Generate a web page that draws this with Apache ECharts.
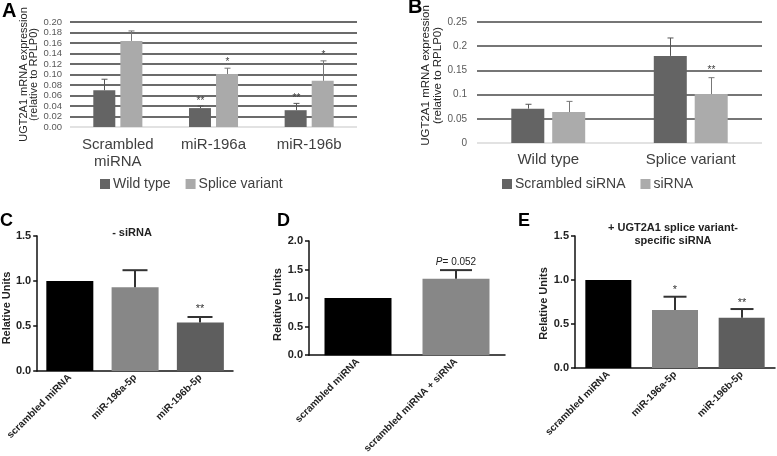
<!DOCTYPE html>
<html><head><meta charset="utf-8">
<script src="https://cdn.jsdelivr.net/npm/echarts@6/dist/echarts.min.js"></script>
<style>html,body{margin:0;padding:0;background:#fff}#c{width:777px;height:456px}</style>
</head><body><div id="c"></div>
<script>
// ---------- Panel A ----------
const aCategories = ['Scrambled\nmiRNA', 'miR-196a', 'miR-196b'];
const aWild = [0.070, 0.036, 0.032];
const aWildErr = [0.091, 0.040, 0.045];
const aWildStars = ['', '**', '**'];
const aSplice = [0.164, 0.101, 0.088];
const aSpliceErr = [0.183, 0.112, 0.126];
const aSpliceStars = ['', '*', '*'];
const aTickLabels = ['0.00','0.02','0.04','0.06','0.08','0.10','0.12','0.14','0.16','0.18','0.20'];
// ---------- Panel B ----------
const bCategories = ['Wild type', 'Splice variant'];
const bScrambled = [0.071, 0.180];
const bScrambledErr = [0.080, 0.217];
const bScrambledStars = ['', ''];
const bSi = [0.064, 0.101];
const bSiErr = [0.086, 0.135];
const bSiStars = ['', '**'];
const bTickLabels = ['0','0.05','0.1','0.15','0.2','0.25'];
// ---------- Panel C ----------
const cCategories = ['scrambled miRNA', 'miR-196a-5p', 'miR-196b-5p'];
const cValues = [1.0, 0.93, 0.54];
const cErr = [null, 1.12, 0.60];
const cStars = ['', '', '**'];
const cTickLabels = ['0.0','0.5','1.0','1.5'];
// ---------- Panel D ----------
const dCategories = ['scrambled miRNA', 'scrambled miRNA + siRNA'];
const dValues = [1.0, 1.34];
const dErr = [null, 1.49];
const dNotes = ['', '{i|P}= 0.052'];
const dTickLabels = ['0.0','0.5','1.0','1.5','2.0'];
// ---------- Panel E ----------
const eCategories = ['scrambled miRNA', 'miR-196a-5p', 'miR-196b-5p'];
const eValues = [1.0, 0.66, 0.57];
const eErr = [null, 0.81, 0.67];
const eStars = ['', '*', '**'];
const eTickLabels = ['0.0','0.5','1.0','1.5'];

// styles
const cdeColors = ['#000000', '#878787', '#5e5e5e'];
const FONT = 'Liberation Sans, Arial, sans-serif';

function errSeries(xi, vals, errs, notes, o) {
  const data = [], labels = [];
  vals.forEach((v, i) => { if (errs[i] != null) { data.push([i, v, errs[i]]); labels.push(notes[i] || ''); } });
  return {
    type: 'custom', xAxisIndex: xi, yAxisIndex: xi, z: 5, silent: true,
    encode: { x: 0, y: 2 }, data: data,
    renderItem(params, api) {
      const i = api.value(0), v = api.value(1), e = api.value(2);
      const p0 = api.coord([i, v]), p1 = api.coord([i, e]);
      const cx = Math.round(p0[0] + o.offset) + (o.width % 2 ? 0.5 : 0);
      const ls = { stroke: o.color, lineWidth: o.width };
      const ch = [
        { type: 'line', shape: { x1: cx, y1: p0[1], x2: cx, y2: p1[1] }, style: ls },
        { type: 'line', shape: { x1: cx - o.cap / 2, y1: p1[1], x2: cx + o.cap / 2, y2: p1[1] }, style: ls }
      ];
      const t = labels[params.dataIndex];
      if (t) ch.push({ type: 'text', x: cx, y: p1[1] - o.gap,
        style: { text: t, fill: o.tcolor, font: o.font, align: 'center', verticalAlign: 'middle', rich: o.rich || {} } });
      return { type: 'group', children: ch };
    }
  };
}

function tickFmt(labels, min, step) {
  return v => labels[Math.round((v - min) / step)];
}

const cdeYAxis = (gi, max, labels, gap, pad) => ({
  type: 'value', gridIndex: gi, min: 0, max: max, interval: 0.5,
  name: 'Relative Units', nameLocation: 'middle', nameGap: gap,
  nameTextStyle: { fontFamily: FONT, fontWeight: 'bold', fontSize: 11, color: '#222', padding: pad },
  axisLine: { show: true, lineStyle: { color: '#111', width: 1.5 } },
  axisTick: { show: true, length: 4, lineStyle: { color: '#111', width: 1.5 } },
  axisLabel: { fontFamily: FONT, fontWeight: 'bold', fontSize: 11, color: '#222', margin: 6,
    showMinLabel: true, showMaxLabel: true, formatter: tickFmt(labels, 0, 0.5) },
  splitLine: { show: false }
});
const cdeXAxis = (gi, cats) => ({
  type: 'category', gridIndex: gi, data: cats,
  axisLine: { show: true, lineStyle: { color: '#111', width: 1.5 } },
  axisTick: { show: false },
  axisLabel: { interval: 0, rotate: 45, fontFamily: FONT, fontWeight: 'bold', fontSize: 10, color: '#222', margin: 5 }
});

const option = {
  animation: false,
  backgroundColor: '#fff',
  title: [
    { text: 'A', left: 2, top: 1, padding: 0, textStyle: { fontFamily: FONT, fontWeight: 'bold', fontSize: 20, color: '#000' } },
    { text: 'B', left: 408, top: -3, padding: 0, textStyle: { fontFamily: FONT, fontWeight: 'bold', fontSize: 20, color: '#000' } },
    { text: 'C', left: 0, top: 212, padding: 0, textStyle: { fontFamily: FONT, fontWeight: 'bold', fontSize: 18, color: '#000' } },
    { text: 'D', left: 277, top: 212, padding: 0, textStyle: { fontFamily: FONT, fontWeight: 'bold', fontSize: 18, color: '#000' } },
    { text: 'E', left: 518, top: 212, padding: 0, textStyle: { fontFamily: FONT, fontWeight: 'bold', fontSize: 18, color: '#000' } },
    { text: '- siRNA', left: 132, top: 227, textAlign: 'center', padding: 0, textStyle: { fontFamily: FONT, fontWeight: 'bold', fontSize: 11, color: '#222' } },
    { text: '+ UGT2A1 splice variant-\nspecific siRNA', left: 673, top: 221, textAlign: 'center', padding: 0,
      textStyle: { fontFamily: FONT, fontWeight: 'bold', fontSize: 11, lineHeight: 13, color: '#222' } }
  ],
  legend: [
    { data: ['Wild type', 'Splice variant'], left: 100, top: 177, padding: 0, icon: 'rect', itemWidth: 10, itemHeight: 10, itemGap: 15,
      textStyle: { fontFamily: FONT, fontSize: 14, color: '#404040', padding: [0, 0, 0, -2] } },
    { data: ['Scrambled siRNA', 'siRNA'], left: 502, top: 177, padding: 0, icon: 'rect', itemWidth: 10, itemHeight: 10, itemGap: 15,
      textStyle: { fontFamily: FONT, fontSize: 14, color: '#404040', padding: [0, 0, 0, -2] } }
  ],
  grid: [
    { left: 70, top: 22, width: 287, height: 105 },
    { left: 477, top: 22, width: 285, height: 121 },
    { left: 31, top: 236, width: 202, height: 135 },
    { left: 309, top: 241, width: 196, height: 129 },
    { left: 575, top: 236, width: 200, height: 132 }
  ],
  xAxis: [
    { type: 'category', gridIndex: 0, data: aCategories, axisLine: { show: false }, axisTick: { show: false },
      axisLabel: { interval: 0, fontFamily: FONT, fontSize: 15, lineHeight: 17, color: '#404040', margin: 9 } },
    { type: 'category', gridIndex: 1, data: bCategories, axisLine: { show: false }, axisTick: { show: false },
      axisLabel: { interval: 0, fontFamily: FONT, fontSize: 15, color: '#404040', margin: 9 } },
    cdeXAxis(2, cCategories),
    cdeXAxis(3, dCategories),
    cdeXAxis(4, eCategories)
  ],
  yAxis: [
    { type: 'value', gridIndex: 0, min: 0, max: 0.2, interval: 0.02,
      name: 'UGT2A1 mRNA expression\n(relative to RPLP0)', nameLocation: 'middle', nameGap: 24,
      nameTextStyle: { fontFamily: FONT, fontSize: 11, lineHeight: 10, color: '#262626' },
      axisLine: { show: false }, axisTick: { show: false },
      axisLabel: { fontFamily: FONT, fontSize: 9.5, color: '#595959', margin: 8, showMinLabel: true, showMaxLabel: true,
        formatter: tickFmt(aTickLabels, 0, 0.02) },
      splitLine: { show: true, lineStyle: { width: 1.5, color: ['#d9d9d9','#3a3a3a','#3a3a3a','#3a3a3a','#3a3a3a','#3a3a3a','#3a3a3a','#3a3a3a','#3a3a3a','#3a3a3a','#3a3a3a'] } } },
    { type: 'value', gridIndex: 1, min: 0, max: 0.25, interval: 0.05,
      name: 'UGT2A1 mRNA expression\n(relative to RPLP0)', nameLocation: 'middle', nameGap: 29,
      nameTextStyle: { fontFamily: FONT, fontSize: 11.5, lineHeight: 12, color: '#262626', padding: [0, 0, 0, 14] },
      axisLine: { show: false }, axisTick: { show: false },
      axisLabel: { fontFamily: FONT, fontSize: 10, color: '#595959', margin: 10, showMinLabel: true, showMaxLabel: true,
        formatter: tickFmt(bTickLabels, 0, 0.05) },
      splitLine: { show: true, lineStyle: { width: 1.5, color: ['#d9d9d9','#484848','#484848','#484848','#484848','#484848'] } } },
    cdeYAxis(2, 1.5, cTickLabels, 13, [0, 9, 0, 0]),
    cdeYAxis(3, 2.0, dTickLabels, 24, [0, 13, 0, 0]),
    cdeYAxis(4, 1.5, eTickLabels, 23, [0, 3, 0, 0])
  ],
  series: [
    { type: 'bar', name: 'Wild type', xAxisIndex: 0, yAxisIndex: 0, data: aWild, barWidth: 22, barGap: '23%', itemStyle: { color: '#646464' } },
    { type: 'bar', name: 'Splice variant', xAxisIndex: 0, yAxisIndex: 0, data: aSplice, barWidth: 22, barGap: '23%', itemStyle: { color: '#aaaaaa' } },
    errSeries(0, aWild, aWildErr, aWildStars, { offset: -13.5, color: '#555', width: 1, cap: 6, gap: 5, tcolor: '#404040', font: '10px ' + FONT }),
    errSeries(0, aSplice, aSpliceErr, aSpliceStars, { offset: 13.5, color: '#777', width: 1, cap: 6, gap: 6, tcolor: '#404040', font: '10px ' + FONT }),

    { type: 'bar', name: 'Scrambled siRNA', xAxisIndex: 1, yAxisIndex: 1, data: bScrambled, barWidth: 33, barGap: '24%', itemStyle: { color: '#646464' } },
    { type: 'bar', name: 'siRNA', xAxisIndex: 1, yAxisIndex: 1, data: bSi, barWidth: 33, barGap: '24%', itemStyle: { color: '#ababab' } },
    errSeries(1, bScrambled, bScrambledErr, bScrambledStars, { offset: -20.5, color: '#555', width: 1, cap: 6, gap: 7, tcolor: '#404040', font: '10px ' + FONT }),
    errSeries(1, bSi, bSiErr, bSiStars, { offset: 20.5, color: '#777', width: 1, cap: 6, gap: 7.5, tcolor: '#404040', font: '10px ' + FONT }),

    { type: 'bar', xAxisIndex: 2, yAxisIndex: 2, barWidth: 47,
      data: cValues.map((v, i) => ({ value: v, itemStyle: { color: cdeColors[i] } })) },
    errSeries(2, cValues, cErr, cStars, { offset: 0, color: '#333', width: 2, cap: 25, gap: 8, tcolor: '#333', font: '11px ' + FONT }),

    { type: 'bar', xAxisIndex: 3, yAxisIndex: 3, barWidth: 67,
      data: dValues.map((v, i) => ({ value: v, itemStyle: { color: cdeColors[i] } })) },
    errSeries(3, dValues, dErr, dNotes, { offset: 0, color: '#333', width: 2, cap: 32, gap: 8, tcolor: '#222', font: '10px ' + FONT,
      rich: { i: { fontStyle: 'italic', fontFamily: FONT, fontSize: 10, fill: '#222' } } }),

    { type: 'bar', xAxisIndex: 4, yAxisIndex: 4, barWidth: 46,
      data: eValues.map((v, i) => ({ value: v, itemStyle: { color: cdeColors[i] } })) },
    errSeries(4, eValues, eErr, eStars, { offset: 0, color: '#333', width: 2, cap: 23, gap: 6.5, tcolor: '#333', font: '11px ' + FONT })
  ]
};

const chart = echarts.init(document.getElementById('c'), null, { renderer: 'canvas' });
chart.setOption(option);
</script>
</body></html>
